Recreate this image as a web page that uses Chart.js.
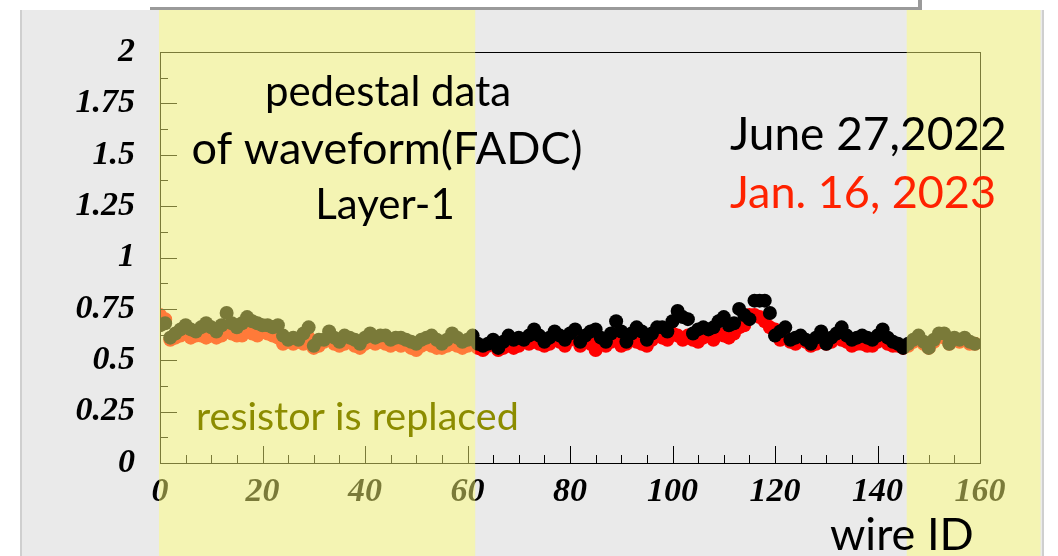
<!DOCTYPE html>
<html>
<head>
<meta charset="utf-8">
<script src="https://cdn.jsdelivr.net/npm/chart.js@4"></script>
<style>
  body { margin: 0; background: #fff; }
  #wrap { width: 1058px; height: 556px; }
</style>
</head>
<body>
<div id="wrap"><canvas id="pedestal" width="1058" height="556"></canvas></div>
<script>
// wire ID 0..159
const wires = [];
for (let i = 0; i < 160; i++) wires.push(i);

// June 27, 2022 (black)
const june2022 = [
  0.67, 0.68, 0.61, 0.63, 0.65, 0.67, 0.65, 0.64, 0.66, 0.68,
  0.66, 0.64, 0.67, 0.73, 0.68, 0.66, 0.68, 0.71, 0.69, 0.68,
  0.67, 0.67, 0.66, 0.67, 0.62, 0.60, 0.61, 0.60, 0.63, 0.66,
  0.57, 0.60, 0.60, 0.64, 0.61, 0.59, 0.62, 0.61, 0.60, 0.58,
  0.61, 0.63, 0.61, 0.62, 0.62, 0.60, 0.61, 0.61, 0.60, 0.59,
  0.58, 0.60, 0.61, 0.62, 0.60, 0.58, 0.60, 0.63, 0.61, 0.59,
  0.60, 0.62, 0.58, 0.57, 0.58, 0.60, 0.56, 0.59, 0.62, 0.60,
  0.61, 0.60, 0.62, 0.65, 0.62, 0.59, 0.61, 0.64, 0.62, 0.60,
  0.63, 0.65, 0.59, 0.62, 0.64, 0.65, 0.61, 0.59, 0.63, 0.69,
  0.64, 0.59, 0.63, 0.66, 0.64, 0.60, 0.63, 0.66, 0.66, 0.64,
  0.69, 0.74, 0.71, 0.70, 0.63, 0.65, 0.66, 0.65, 0.66, 0.69,
  0.71, 0.67, 0.68, 0.75, 0.72, 0.70, 0.79, 0.79, 0.79, 0.73,
  0.62, 0.64, 0.66, 0.60, 0.61, 0.62, 0.60, 0.58, 0.61, 0.64,
  0.58, 0.61, 0.63, 0.66, 0.62, 0.60, 0.61, 0.62, 0.61, 0.60,
  0.62, 0.65, 0.61, 0.59, 0.58, 0.56, 0.58, 0.60, 0.62, 0.59,
  0.56, 0.60, 0.63, 0.63, 0.58, 0.61, 0.60, 0.61, 0.59, 0.58
];

// Jan. 16, 2023 (red)
const jan2023 = [
  0.72, 0.70, 0.60, 0.61, 0.62, 0.63, 0.61, 0.62, 0.62, 0.61,
  0.63, 0.61, 0.62, 0.66, 0.63, 0.62, 0.62, 0.64, 0.63, 0.62,
  0.64, 0.63, 0.62, 0.61, 0.58, 0.60, 0.58, 0.59, 0.58, 0.61,
  0.56, 0.57, 0.59, 0.60, 0.58, 0.57, 0.58, 0.59, 0.57, 0.56,
  0.58, 0.59, 0.58, 0.59, 0.58, 0.57, 0.58, 0.57, 0.58, 0.56,
  0.55, 0.57, 0.58, 0.57, 0.56, 0.56, 0.57, 0.58, 0.57, 0.56,
  0.57, 0.58, 0.56, 0.55, 0.57, 0.58, 0.55, 0.56, 0.58, 0.56,
  0.57, 0.59, 0.58, 0.61, 0.58, 0.57, 0.58, 0.60, 0.59, 0.57,
  0.60, 0.61, 0.57, 0.59, 0.58, 0.55, 0.58, 0.57, 0.59, 0.61,
  0.57, 0.58, 0.60, 0.59, 0.58, 0.57, 0.60, 0.62, 0.61, 0.60,
  0.63, 0.62, 0.60, 0.62, 0.60, 0.59, 0.61, 0.62, 0.60, 0.63,
  0.62, 0.61, 0.63, 0.66, 0.67, 0.72, 0.72, 0.71, 0.69, 0.66,
  0.65, 0.60, 0.61, 0.59, 0.58, 0.60, 0.59, 0.57, 0.58, 0.60,
  0.58, 0.59, 0.61, 0.60, 0.59, 0.57, 0.58, 0.58, 0.57, 0.57,
  0.59, 0.60, 0.58, 0.57, 0.57, 0.56, 0.57, 0.59, 0.61, 0.58,
  0.56, 0.59, 0.62, 0.61, 0.58, 0.60, 0.59, 0.60, 0.58, 0.58
];

// shaded wire ranges ("resistor is replaced"), in wire units
const bandRanges = [[-0.2, 61.5], [145.7, 171.8]];

const ANNO = 'Lato, "Open Sans", sans-serif';
const TICKFONT = '"Liberation Serif", "DejaVu Serif", serif';

function pts(ys) {
  return wires.map(function(w, i) { return { x: w, y: ys[i] }; });
}

const framePlugin = {
  id: 'frame',
  beforeDraw: function(chart) {
    const c = chart.ctx;
    c.save();
    c.fillStyle = '#ffffff';
    c.fillRect(0, 0, chart.width, chart.height);
    // grey slide panel
    c.fillStyle = '#cfcfcf';
    c.fillRect(20, 10, 1024, chart.height);
    c.fillStyle = '#eaeaea';
    c.fillRect(22, 10, 1020, chart.height);
    // box above with shadow
    c.fillStyle = '#9a9a9a';
    c.fillRect(150, 0, 772, 10);
    c.fillStyle = '#ffffff';
    c.fillRect(148, 0, 770, 7);
    c.restore();
  },
  afterDatasetsDraw: function(chart) {
    const c = chart.ctx;
    const a = chart.chartArea;
    const xs = chart.scales.x, ys = chart.scales.y;
    c.save();
    c.strokeStyle = '#000';
    c.lineWidth = 1;
    c.strokeRect(a.left + 0.5, a.top + 0.5, a.right - a.left, a.bottom - a.top);
    c.beginPath();
    for (let v = 0; v <= 160; v += 5) {
      const px = Math.round(xs.getPixelForValue(v)) + 0.5;
      const len = v % 20 === 0 ? 17 : 8;
      c.moveTo(px, a.bottom);
      c.lineTo(px, a.bottom - len);
    }
    for (let k = 0; k <= 16; k++) {
      const v = k * 0.125;
      const py = Math.round(ys.getPixelForValue(v)) + 0.5;
      const len = k % 2 === 0 ? 17 : 8;
      c.moveTo(a.left, py);
      c.lineTo(a.left + len, py);
    }
    c.stroke();
    c.restore();
  },
  afterDraw: function(chart) {
    const c = chart.ctx;
    const xs = chart.scales.x;
    c.save();
    // translucent yellow bands laid over everything drawn so far
    c.fillStyle = 'rgba(255, 255, 120, 0.48)';
    bandRanges.forEach(function(r) {
      const x0 = xs.getPixelForValue(r[0]);
      const x1 = xs.getPixelForValue(r[1]);
      c.fillRect(x0, 10, x1 - x0, chart.height - 10);
    });

    c.textBaseline = 'alphabetic';
    c.textAlign = 'center';
    c.fillStyle = '#000';
    c.font = '42px ' + ANNO;
    c.fillText('pedestal data', 388, 106);
    c.font = '45px ' + ANNO;
    c.fillText('of waveform(FADC)', 387, 164);
    c.font = '42px ' + ANNO;
    c.fillText('Layer-1', 385, 219);

    c.textAlign = 'left';
    c.font = '46px ' + ANNO;
    c.fillText('June 27,2022', 730, 150);
    c.fillStyle = '#ff2200';
    c.font = '45px ' + ANNO;
    c.fillText('Jan. 16, 2023', 730, 208);

    c.fillStyle = '#8c8c00';
    c.font = '39.5px ' + ANNO;
    c.fillText('resistor is replaced', 196, 430);

    c.fillStyle = '#000';
    c.font = '45px ' + ANNO;
    c.fillText('wire ID', 830, 550);
    c.restore();
  }
};

const ctx = document.getElementById('pedestal').getContext('2d');
const chart = new Chart(ctx, {
  type: 'scatter',
  data: {
    datasets: [
      {
        label: 'June 27,2022',
        data: pts(june2022),
        backgroundColor: '#000000',
        borderWidth: 0,
        pointRadius: 7
      },
      {
        label: 'Jan. 16, 2023',
        data: pts(jan2023),
        backgroundColor: '#ff0000',
        borderWidth: 0,
        pointRadius: 7
      }
    ]
  },
  options: {
    responsive: false,
    animation: false,
    layout: { padding: { left: 0, top: 52, right: 78, bottom: 0 } },
    plugins: {
      legend: { display: false },
      tooltip: { enabled: false }
    },
    scales: {
      x: {
        type: 'linear',
        min: 0,
        max: 160,
        grid: { display: false, drawTicks: false },
        border: { display: false },
        ticks: {
          stepSize: 20,
          padding: 9,
          maxRotation: 0,
          color: '#000',
          font: { family: TICKFONT, size: 34, style: 'italic', weight: 'bold' }
        },
        afterFit: function(s) { s.height = 93; }
      },
      y: {
        min: 0,
        max: 2,
        grid: { display: false, drawTicks: false },
        border: { display: false },
        ticks: {
          stepSize: 0.25,
          padding: 25,
          color: '#000',
          font: { family: TICKFONT, size: 34, style: 'italic', weight: 'bold' },
          callback: function(v) { return String(Number(v.toFixed(2))); }
        },
        afterFit: function(s) { s.width = 160; }
      }
    }
  },
  plugins: [framePlugin]
});
</script>
</body>
</html>
